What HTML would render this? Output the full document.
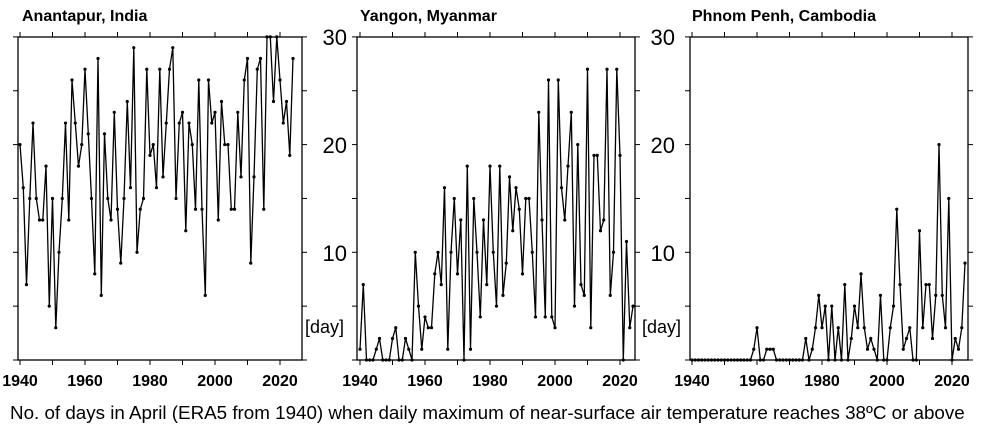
<!DOCTYPE html>
<html><head><meta charset="utf-8"><style>
html,body{margin:0;padding:0;background:#fff;}
svg{display:block;font-family:"Liberation Sans",Arial,sans-serif;}
</style></head><body>
<svg id="s" width="981" height="427" viewBox="0 0 981 427" xmlns="http://www.w3.org/2000/svg">
<rect width="981" height="427" fill="#fff"/>
<text x="22" y="21" font-size="16" font-weight="bold">Anantapur, India</text>
<text x="360" y="21" font-size="16" font-weight="bold">Yangon, Myanmar</text>
<text x="692" y="21" font-size="16" font-weight="bold">Phnom Penh, Cambodia</text>
<g font-size="22" text-anchor="end">
<text x="347" y="45">30</text><text x="347" y="153">20</text><text x="347" y="261">10</text>
<text x="675" y="45">30</text><text x="675" y="153">20</text><text x="675" y="261">10</text>
</g>
<text x="305" y="333" font-size="18">[day]</text>
<text x="642" y="333" font-size="18">[day]</text>
<g font-size="16" font-weight="bold" text-anchor="middle">
<text x="20" y="386">1940</text><text x="85" y="386">1960</text><text x="150" y="386">1980</text><text x="215" y="386">2000</text><text x="280" y="386">2020</text>
<text x="360" y="386">1940</text><text x="425" y="386">1960</text><text x="490" y="386">1980</text><text x="555" y="386">2000</text><text x="620" y="386">2020</text>
<text x="692" y="386">1940</text><text x="757" y="386">1960</text><text x="822" y="386">1980</text><text x="887" y="386">2000</text><text x="952" y="386">2020</text>
</g>
<text x="10" y="419" font-size="18.8">No. of days in April (ERA5 from 1940) when daily maximum of near-surface air temperature reaches 38ºC or above</text>
</svg>
<script>
var s=document.getElementById('s'),NS='http://www.w3.org/2000/svg';
function el(t,a){var e=document.createElementNS(NS,t);for(var k in a)e.setAttribute(k,a[k]);s.appendChild(e);return e;}
var d1=[20,16,7,15,22,15,13,13,18,5,15,3,10,15,22,13,26,22,18,20,27,21,15,8,28,6,21,15,13,23,14,9,15,24,16,29,10,14,15,27,19,20,16,27,17,22,27,29,15,22,23,12,22,20,14,26,14,6,26,22,23,13,24,20,20,14,14,23,17,26,28,9,17,27,28,14,30,30,24,30,26,22,24,19,28];
var d2=[1,7,0,0,0,1,2,0,0,0,2,3,0,0,2,1,0,10,5,1,4,3,3,8,10,7,16,1,10,15,8,13,0,18,1,15,10,4,13,7,18,10,5,18,6,9,17,12,16,14,8,15,15,10,4,23,13,4,26,4,3,26,16,13,18,23,5,20,7,6,27,3,19,19,12,13,27,6,10,27,19,0,11,3,5];
var d3=[];for(var i=0;i<19;i++)d3.push(0);
d3=d3.concat([1,3,0,0,1,1,1,0,0,0,0,0,0,0,0,0,2,0,1,3,6,3,5,0,5,0,3,0,7,0,2,5,3,8,3,1,2,1,0,6,0,0,3,5,14,7,1,2,3,0,0,12,3,7,7,2,6,20,6,3,15,0,2,1,3,9]);
function panel(L,R,x0,data){
  var T=37,B=360;
  el('rect',{x:L,y:T,width:R-L,height:B-T,fill:'none',stroke:'#000','stroke-width':1.3});
  for(var v=0;v<=30;v+=5){var y=B-v*10.77;
    el('line',{x1:L-5,x2:L,y1:y,y2:y,stroke:'#000','stroke-width':1});
    el('line',{x1:R,x2:R+5,y1:y,y2:y,stroke:'#000','stroke-width':1});}
  for(var yr=1940;yr<=2020;yr+=10){var x=x0+(yr-1940)*3.25;
    el('line',{x1:x,x2:x,y1:T-5,y2:T,stroke:'#000','stroke-width':1});
    el('line',{x1:x,x2:x,y1:B,y2:B+5,stroke:'#000','stroke-width':1});}
  var pts=data.map(function(v,i){return (x0+i*3.25).toFixed(1)+','+(B-v*10.77).toFixed(1);});
  el('polyline',{points:pts.join(' '),fill:'none',stroke:'#000','stroke-width':1.3});
  data.forEach(function(v,i){el('circle',{cx:x0+i*3.25,cy:B-v*10.77,r:1.6,fill:'#000'});});
}
panel(18,302,20,d1);
panel(357,635,360,d2);
panel(690,968,692,d3);
</script>
</body></html>
